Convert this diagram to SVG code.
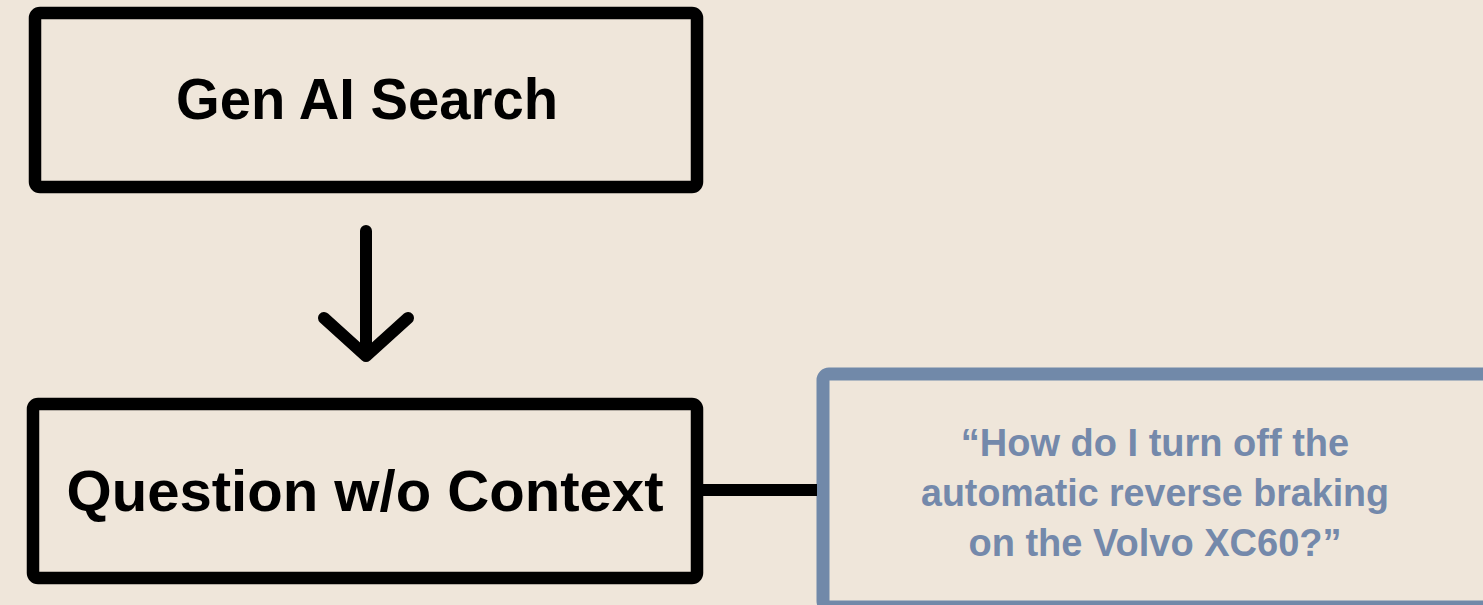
<svg xmlns="http://www.w3.org/2000/svg" width="1483" height="605" viewBox="0 0 1483 605">
<style>
.box{fill:#EFE6DA;stroke:#000;stroke-width:12.5}
.qbox{fill:#EFE6DA;stroke:#7189A9;stroke-width:13}
.lbl{font-family:"Liberation Sans",Arial,sans-serif;font-weight:bold;font-size:58px;fill:#000;text-anchor:middle}
.q{font-family:"Liberation Sans",Arial,sans-serif;font-weight:bold;font-size:38px;fill:#7489AB;text-anchor:middle}
.conn{stroke:#000;stroke-width:12;fill:none;stroke-linecap:round;stroke-linejoin:round}
</style>
<rect width="1483" height="605" fill="#EFE6DA"/>
<g id="node-gen-ai-search">
<rect class="box" x="35" y="13" width="662" height="174" rx="5"/>
<text class="lbl" x="367" y="119" textLength="382" lengthAdjust="spacingAndGlyphs">Gen AI Search</text>
</g>
<g id="node-question">
<rect class="box" x="33" y="404" width="664" height="174" rx="5"/>
<text class="lbl" x="365" y="511" textLength="597" lengthAdjust="spacingAndGlyphs">Question w/o Context</text>
</g>
<g id="node-example">
<rect class="qbox" x="823" y="374" width="700" height="233" rx="6"/>
<text class="q" x="1155" y="456">“How do I turn off the</text>
<text class="q" x="1155" y="506" textLength="468" lengthAdjust="spacingAndGlyphs">automatic reverse braking</text>
<text class="q" x="1155" y="556">on the Volvo XC60?”</text>
</g>
<g id="connectors">
<path class="conn" d="M366 231 V355 M324 318 L366 356 L408 318"/>
<path d="M703 490 H817" stroke="#000" stroke-width="12" fill="none"/>
</g>
</svg>
